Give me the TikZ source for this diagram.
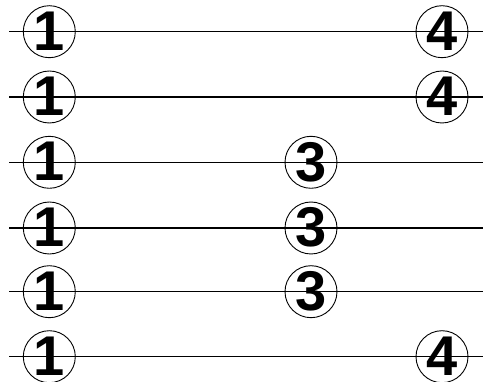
\documentclass[tikz,border=0pt]{standalone}
\usepackage{fontspec}
\setmainfont{Liberation Sans}
\tikzset{
  rowline/.style={draw=black, line width=1.4pt},
  num/.style={circle, draw=black, line width=0.9pt, minimum size=52pt, inner sep=0pt,
    font=\fontsize{56}{56}\selectfont\bfseries},
}
\begin{document}
\begin{tikzpicture}[x=1pt, y=-1pt]
\useasboundingbox (0,0) rectangle (483,382);
% rows
\foreach \k/\y in {1/31.7, 2/97, 3/162.3, 4/228, 5/291.7, 6/356.7} {
  \coordinate (L\k) at (9.3,\y);
  \coordinate (R\k) at (483,\y);
  \draw[rowline] (L\k) -- (R\k);
  \node[num] (a\k) at (49.3,\y) {\raisebox{1.5pt}{1}};
}
\node[num] (b1) at (442,31.7) {\raisebox{1.5pt}{4}};
\node[num] (b2) at (442,97) {\raisebox{1.5pt}{4}};
\node[num] (b3) at (311,162.3) {\raisebox{1.5pt}{3}};
\node[num] (b4) at (311,228) {\raisebox{1.5pt}{3}};
\node[num] (b5) at (311,291.7) {\raisebox{1.5pt}{3}};
\node[num] (b6) at (442,356.7) {\raisebox{1.5pt}{4}};
\end{tikzpicture}
\end{document}
